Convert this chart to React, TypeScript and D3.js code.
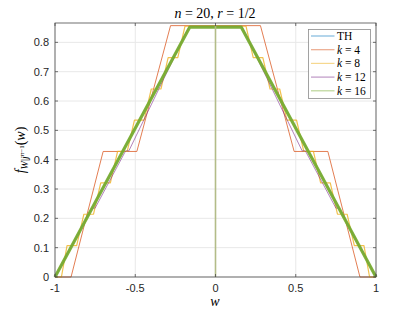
import React from "react";
import { scaleLinear, line } from "d3";

// series values (w, f)
const thW = [-1, -0.16, 0.16, 1];
const thY = [0, 0.855, 0.855, 0];

const k4W = [-1, -0.9, -0.7, -0.49, -0.28, 0.28, 0.49, 0.7, 0.9, 1];
const k4Y = [0, 0, 0.428, 0.428, 0.857, 0.857, 0.428, 0.428, 0, 0];

const k8W = [
  -1, -0.96, -0.925, -0.865, -0.82, -0.76, -0.715, -0.655, -0.61, -0.55, -0.505, -0.445, -0.4, -0.34,
  -0.295, -0.235, -0.19, 0.19, 0.235, 0.295, 0.34, 0.4, 0.445, 0.505, 0.55, 0.61, 0.655, 0.715, 0.76,
  0.82, 0.865, 0.925, 0.96, 1,
];
const k8Y = [
  0, 0, 0.107, 0.107, 0.214, 0.214, 0.321, 0.321, 0.428, 0.428, 0.535, 0.535, 0.641, 0.641, 0.748,
  0.748, 0.855, 0.855, 0.748, 0.748, 0.641, 0.641, 0.535, 0.535, 0.428, 0.428, 0.321, 0.321, 0.214,
  0.214, 0.107, 0.107, 0, 0,
];

const k12W = [-1, -0.77, -0.75, -0.56, -0.54, -0.165, 0.165, 0.54, 0.56, 0.75, 0.77, 1];
const k12Y = [0, 0.235, 0.235, 0.43, 0.43, 0.853, 0.853, 0.43, 0.43, 0.235, 0.235, 0];

const k16W = [-1, -0.16, 0.16, 1];
const k16Y = [0, 0.852, 0.852, 0];

const spikeW = [0, 0];
const spikeY = [0, 0.855];

const xTicks = [-1, -0.5, 0, 0.5, 1];
const xTickLabels = ["-1", "-0.5", "0", "0.5", "1"];
const yTicks = [0, 0.1, 0.2, 0.3, 0.4, 0.5, 0.6, 0.7, 0.8];
const yTickLabels = ["0", "0.1", "0.2", "0.3", "0.4", "0.5", "0.6", "0.7", "0.8"];

const legendNames = ["TH", "4", "8", "12", "16"];

const series = [
  { w: thW, y: thY, color: "#0072bd", width: 1, opacity: 0.5 },
  { w: k4W, y: k4Y, color: "#d95319", width: 1, opacity: 0.75 },
  { w: k8W, y: k8Y, color: "#edb120", width: 1.2, opacity: 0.8 },
  { w: k12W, y: k12Y, color: "#7e2f8e", width: 1, opacity: 0.6 },
  { w: k16W, y: k16Y, color: "#77ac30", width: 3.2, opacity: 0.95 },
];

const left = 55;
const right = 376;
const top = 23;
const bottom = 277;

export default function App() {
  const x = scaleLinear().domain([-1, 1]).range([left, right]);
  const y = scaleLinear().domain([0, 0.866]).range([bottom, top]);

  const toPath = (ws: number[], ys: number[]) =>
    line<number>()
      .x((d) => x(ws[d]))
      .y((d) => y(ys[d]))(ws.map((_, i) => i)) || "";

  const axisColor = "#4d4d4d";
  const tickFont = "'Liberation Sans', Arial, sans-serif";
  const serif = "'Liberation Serif', 'Times New Roman', serif";

  const legX = 308.5;
  const legY = 29.5;
  const legRow = 13.7;

  return (
    <svg
      width={415}
      height={312}
      style={{ position: "absolute", left: 0, top: 0, background: "#fff" }}
    >
      <rect x={0} y={0} width={415} height={312} fill="#fff" />
      {/* grid */}
      <g stroke="#e8e8e8" strokeWidth={1}>
        {xTicks.map((t) => (
          <line key={"gx" + t} x1={x(t)} x2={x(t)} y1={top} y2={bottom} />
        ))}
        {yTicks.map((t) => (
          <line key={"gy" + t} x1={left} x2={right} y1={y(t)} y2={y(t)} />
        ))}
      </g>

      {/* series */}
      <g fill="none" strokeLinejoin="round">
        {series.map((s, i) => (
          <path
            key={i}
            d={toPath(s.w, s.y)}
            stroke={s.color}
            strokeWidth={s.width}
            strokeOpacity={s.opacity}
          />
        ))}
        <path d={toPath(spikeW, spikeY)} stroke="#b3bc88" strokeWidth={1.6} />
      </g>

      {/* box and ticks */}
      <rect
        x={left}
        y={top}
        width={right - left}
        height={bottom - top}
        fill="none"
        stroke={axisColor}
        strokeWidth={0.8}
      />
      <g stroke={axisColor} strokeWidth={0.8}>
        {xTicks.map((t) => (
          <g key={"tx" + t}>
            <line x1={x(t)} x2={x(t)} y1={bottom} y2={bottom - 3} />
            <line x1={x(t)} x2={x(t)} y1={top} y2={top + 3} />
          </g>
        ))}
        {yTicks.map((t) => (
          <g key={"ty" + t}>
            <line x1={left} x2={left + 3} y1={y(t)} y2={y(t)} />
            <line x1={right} x2={right - 3} y1={y(t)} y2={y(t)} />
          </g>
        ))}
      </g>

      {/* tick labels */}
      <g fontFamily={tickFont} fontSize={11} fill="#262626">
        {xTicks.map((t, i) => (
          <text key={"lx" + t} x={x(t)} y={bottom + 15} textAnchor="middle">
            {xTickLabels[i]}
          </text>
        ))}
        {yTicks.map((t, i) => (
          <text key={"ly" + t} x={left - 6} y={y(t) + 4} textAnchor="end">
            {yTickLabels[i]}
          </text>
        ))}
      </g>

      {/* title */}
      <text x={215} y={18} textAnchor="middle" fontFamily={serif} fontSize={14} fill="#000">
        <tspan fontStyle="italic">n</tspan>
        <tspan> = 20, </tspan>
        <tspan fontStyle="italic">r</tspan>
        <tspan> = 1/2</tspan>
      </text>

      {/* x label */}
      <text x={215} y={306} textAnchor="middle" fontFamily={serif} fontSize={14} fontStyle="italic" fill="#000">
        w
      </text>

      {/* y label */}
      <text
        transform="translate(25,150) rotate(-90)"
        textAnchor="middle"
        fontFamily={serif}
        fontSize={14}
        fill="#000"
      >
        <tspan fontStyle="italic">f</tspan>
        <tspan fontSize={10} dy={3} fontStyle="italic">W</tspan>
        <tspan fontSize={10}>|</tspan>
        <tspan fontSize={10} fontStyle="italic">j</tspan>
        <tspan fontSize={7} dy={-4} fontStyle="italic">n</tspan>
        <tspan fontSize={7}>−1</tspan>
        <tspan dy={1}>(</tspan>
        <tspan fontStyle="italic">w</tspan>
        <tspan>)</tspan>
      </text>

      {/* legend */}
      <rect x={legX} y={legY} width={62} height={69} fill="#fff" stroke="#8c8c8c" strokeWidth={0.8} />
      {series.map((s, i) => (
        <g key={"leg" + i}>
          <line
            x1={legX + 2.5}
            x2={legX + 26}
            y1={legY + 6.5 + i * legRow}
            y2={legY + 6.5 + i * legRow}
            stroke={s.color}
            strokeOpacity={0.5}
            strokeWidth={1.2}
          />
          <text x={legX + 28.5} y={legY + 10.5 + i * legRow} fontFamily={serif} fontSize={11.5} fill="#000">
            {i === 0 ? (
              legendNames[i]
            ) : (
              <>
                <tspan fontStyle="italic">k</tspan>
                <tspan>{" = " + legendNames[i]}</tspan>
              </>
            )}
          </text>
        </g>
      ))}
    </svg>
  );
}
